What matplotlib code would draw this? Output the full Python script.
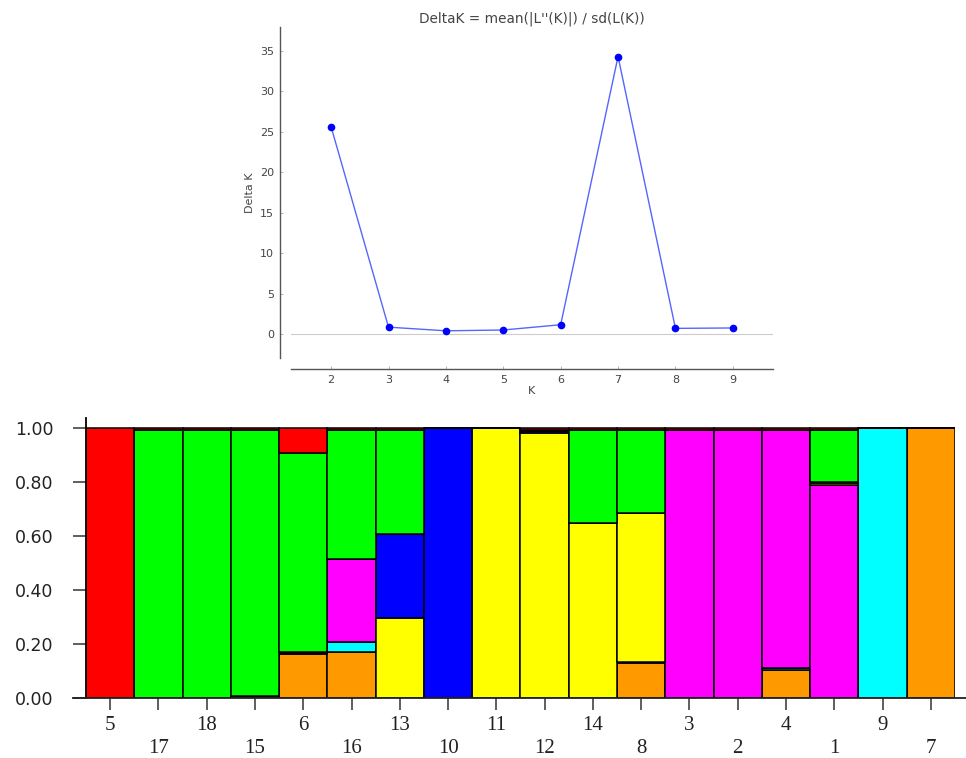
import matplotlib
matplotlib.use("Agg")
import matplotlib.pyplot as plt
import numpy as np

# Delta K por K (Evanno)
k_vals = [2, 3, 4, 5, 6, 7, 8, 9]
delta_k = [25.6, 0.85, 0.4, 0.5, 1.15, 34.3, 0.7, 0.75]

# Proporções de ancestralidade (K=7), na ordem das barras
individuos = ["5", "17", "18", "15", "6", "16", "13", "10", "11",
              "12", "14", "8", "3", "2", "4", "1", "9", "7"]
clusters = ["laranja", "ciano", "magenta", "amarelo", "azul", "verde", "vermelho"]
cores = ["#ff9900", "#00ffff", "#ff00ff", "#ffff00", "#0000ff", "#00ff00", "#ff0000"]

laranja  = [0.000, 0.000, 0.000, 0.008, 0.163, 0.170, 0.000, 0.000, 0.000, 0.000, 0.000, 0.129, 0.000, 0.000, 0.105, 0.000, 0.000, 1.000]
ciano    = [0.000, 0.000, 0.000, 0.000, 0.004, 0.037, 0.000, 0.000, 0.000, 0.000, 0.000, 0.005, 0.000, 0.000, 0.006, 0.000, 1.000, 0.000]
magenta  = [0.000, 0.000, 0.000, 0.000, 0.004, 0.307, 0.000, 0.000, 0.000, 0.000, 0.000, 0.000, 0.994, 0.994, 0.883, 0.791, 0.000, 0.000]
amarelo  = [0.000, 0.000, 0.000, 0.000, 0.000, 0.000, 0.298, 0.000, 1.000, 0.982, 0.649, 0.552, 0.000, 0.000, 0.000, 0.005, 0.000, 0.000]
azul     = [0.000, 0.000, 0.000, 0.000, 0.000, 0.000, 0.309, 1.000, 0.000, 0.006, 0.000, 0.000, 0.000, 0.000, 0.000, 0.004, 0.000, 0.000]
verde    = [0.000, 0.994, 0.994, 0.986, 0.738, 0.480, 0.387, 0.000, 0.000, 0.006, 0.345, 0.308, 0.000, 0.000, 0.000, 0.194, 0.000, 0.000]
vermelho = [1.000, 0.006, 0.006, 0.006, 0.091, 0.006, 0.006, 0.000, 0.000, 0.006, 0.006, 0.006, 0.006, 0.006, 0.006, 0.006, 0.000, 0.000]

props = [laranja, ciano, magenta, amarelo, azul, verde, vermelho]

fig = plt.figure(figsize=(9.66, 7.58), dpi=100)

# --- Painel superior: Delta K ---
ax1 = fig.add_axes([0.3012, 0.5273, 0.499, 0.4376])
cinza = "#444444"
ax1.axhline(0, color="#cccccc", lw=0.8, zorder=1)
ax1.plot(k_vals, delta_k, color="#5566ff", lw=1.0, zorder=2)
ax1.plot(k_vals, delta_k, "o", color="#0000ff", ms=4.5, zorder=3)
ax1.set_xlim(1.3, 9.7)
ax1.set_ylim(-3, 38)
ax1.set_xticks(k_vals)
ax1.set_yticks(range(0, 36, 5))
for s in ["top", "right"]:
    ax1.spines[s].set_visible(False)
for s in ["left", "bottom"]:
    ax1.spines[s].set_position(("outward", 8))
    ax1.spines[s].set_color("#555555")
    ax1.spines[s].set_linewidth(1.0)
ax1.tick_params(direction="in", length=2.5, width=0.6, color="#aaaaaa",
                labelsize=8, labelcolor=cinza, pad=4)
ax1.set_title("DeltaK = mean(|L''(K)|) / sd(L(K))", fontsize=9.8, color=cinza, pad=3)
ax1.set_ylabel("Delta K", fontsize=8, color=cinza, labelpad=4)
ax1.set_xlabel("K", fontsize=8, color=cinza, labelpad=1)

# --- Painel inferior: barras de ancestralidade ---
ax2 = fig.add_axes([0.089, 0.0788, 0.8996, 0.3694])
x = np.arange(len(individuos))
base = np.zeros(len(individuos))
for vals, cor in zip(props, cores):
    v = np.array(vals)
    ax2.bar(x, v, width=1.0, bottom=base, color=cor, edgecolor="black",
            linewidth=1.1, zorder=2)
    base += v

ax2.set_xlim(-0.5, len(individuos) - 0.5)
ax2.set_ylim(0, 1.037)
for s in ["top", "right", "bottom"]:
    ax2.spines[s].set_visible(False)
ax2.spines["left"].set_color("black")
ax2.spines["left"].set_linewidth(1.3)
ax2.axhline(0, xmin=-0.015, xmax=1.013, color="#222222", lw=1.3, clip_on=False, zorder=3)

ax2.set_yticks([0, 0.2, 0.4, 0.6, 0.8, 1.0])
ax2.set_yticklabels(["0.00", "0.20", "0.40", "0.60", "0.80", "1.00"],
                    fontsize=12.5, color="#222222")
ax2.tick_params(axis="y", direction="out", length=9.4, width=1.1, color="#333333", pad=14)

rotulos = [r if i % 2 == 0 else "\n" + r for i, r in enumerate(individuos)]
ax2.set_xticks(x)
ax2.set_xticklabels(rotulos, fontsize=15, family="Liberation Serif", color="#222222",
                    linespacing=1.3)
ax2.tick_params(axis="x", direction="out", length=8.5, width=1.1, color="#333333", pad=4)

fig.savefig("out.png", dpi=100)
